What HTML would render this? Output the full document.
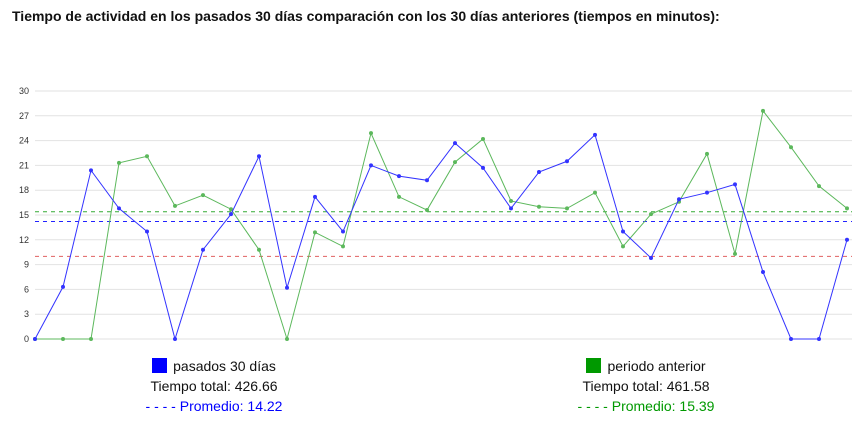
<!DOCTYPE html>
<html><head><meta charset="utf-8">
<style>
body{margin:0;background:#fff;font-family:"Liberation Sans",sans-serif;}
#wrap{position:relative;width:866px;height:431px;overflow:hidden;}
#title{position:absolute;left:12px;top:8px;font-size:14px;font-weight:bold;color:#111;}
.leg{position:absolute;text-align:center;font-size:14px;color:#111;}
.sq{display:inline-block;width:15px;height:15px;vertical-align:-2px;margin-right:6px;}
</style></head><body>
<div id="wrap">
<div id="title">Tiempo de actividad en los pasados 30 días comparación con los 30 días anteriores (tiempos en minutos):</div>
<svg id="chart" width="866" height="431" style="position:absolute;left:0;top:0"></svg>
<div class="leg" style="left:114px;top:358px;width:200px">
<div><span class="sq" style="background:#0000ff"></span>pasados 30 días</div>
<div style="margin-top:4px">Tiempo total: 426.66</div>
<div style="margin-top:4px;color:#0000ff"><span style="color:#0000ff">- - - -</span> Promedio: 14.22</div>
</div>
<div class="leg" style="left:546px;top:358px;width:200px">
<div><span class="sq" style="background:#009900"></span>periodo anterior</div>
<div style="margin-top:4px">Tiempo total: 461.58</div>
<div style="margin-top:4px;color:#009900"><span style="color:#009900">- - - -</span> Promedio: 15.39</div>
</div>
</div>
<script>
const yTicks=[0,3,6,9,12,15,18,21,24,27,30];
const current=[0,6.3,20.4,15.8,13.0,0,10.8,15.1,22.1,6.2,17.2,13.0,21.0,19.7,19.2,23.7,20.7,15.8,20.2,21.5,24.7,13.0,9.8,16.9,17.7,18.7,8.1,0,0,12.0];
const previous=[0,0,0,21.3,22.1,16.1,17.4,15.7,10.8,0,12.9,11.2,24.9,17.2,15.6,21.4,24.2,16.7,16.0,15.8,17.7,11.2,15.1,16.6,22.4,10.3,27.6,23.2,18.5,15.8];
const avgCurrent=14.22, avgPrevious=15.39, threshold=10;
const svg=document.getElementById('chart');
const NS='http://www.w3.org/2000/svg';
const x0=35,x1=847,y0=339,y1=91;
function xs(i){return x0+i*(x1-x0)/(current.length-1);}
function ys(v){return y0-(v/30)*(y0-y1);}
function mk(t,a){const e=document.createElementNS(NS,t);for(const k in a)e.setAttribute(k,a[k]);svg.appendChild(e);return e;}
yTicks.forEach(t=>{
 const l=mk('line',{x1:x0,x2:852,y1:ys(t),y2:ys(t),stroke:'#e2e2e2','stroke-width':1});
 
 
 const tx=mk('text',{x:29,y:ys(t)+3,'text-anchor':'end','font-size':9,fill:'#333','font-family':'Liberation Sans, sans-serif'});
 tx.textContent=t;
 
 
});
[[threshold,'#e06060'],[avgCurrent,'#2222ff'],[avgPrevious,'#33aa33']].forEach(([v,c])=>{
 const l=mk('line',{x1:x0,x2:852,y1:ys(v),y2:ys(v),stroke:c,'stroke-width':1,'stroke-dasharray':'4,4'});
 
 
});
function series(d,c,name){
 const p=mk('polyline',{points:d.map((v,i)=>xs(i)+','+ys(v)).join(' '),fill:'none',stroke:c,'stroke-width':1});
 
 
 d.forEach((v,i)=>{
  const ci=mk('circle',{cx:xs(i),cy:ys(v),r:2,fill:c});
  
  
 });
}
series(previous,'#5cb85c','previous');
series(current,'#3333ff','current');
</script>
</body></html>
